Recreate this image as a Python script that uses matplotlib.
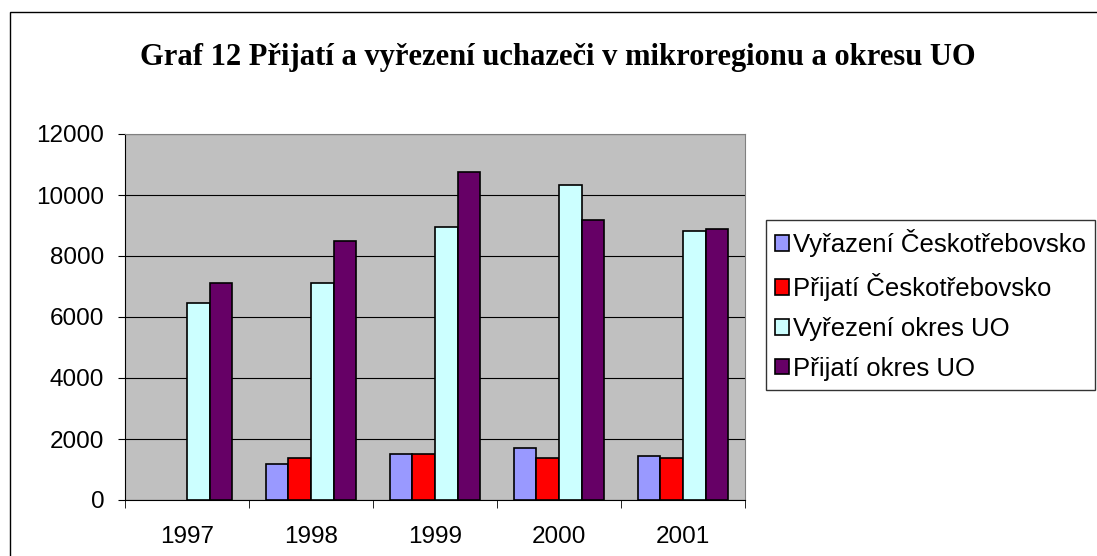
import matplotlib
matplotlib.use("Agg")
import matplotlib.pyplot as plt
import numpy as np
from matplotlib.patches import Rectangle

years = ["1997", "1998", "1999", "2000", "2001"]
series_names = ["Vyřazení Českotřebovsko", "Přijatí Českotřebovsko",
                "Vyřezení okres UO", "Přijatí okres UO"]
vyrazeni_ct = [np.nan, 1190, 1515, 1710, 1450]
prijati_ct = [np.nan, 1385, 1515, 1385, 1385]
vyrezeni_uo = [6450, 7100, 8960, 10340, 8830]
prijati_uo = [7100, 8500, 10750, 9170, 8890]
colors = ["#9999FF", "#FF0000", "#CCFFFF", "#660066"]

W, H = 1097, 556
fig = plt.figure(figsize=(W / 100, H / 100), dpi=100)
fig.patch.set_facecolor("white")

# outer border
fig.patches.append(Rectangle((10 / W, -0.01), 1.0, 1 - 12 / H + 0.01,
                             transform=fig.transFigure, fill=False,
                             edgecolor="black", linewidth=1.0))

ax = fig.add_axes([125 / W, 1 - 500 / H, 620 / W, 366 / H])
ax.set_facecolor("#C0C0C0")

x = np.arange(len(years))
bw = 1 / 5.5
data = [vyrazeni_ct, prijati_ct, vyrezeni_uo, prijati_uo]
for i, (vals, c, name) in enumerate(zip(data, colors, series_names)):
    ax.bar(x + (i - 1.5) * bw, vals, width=bw, color=c, edgecolor="black",
           linewidth=1.2, label=name, zorder=3)

ax.set_xlim(-0.5, len(years) - 0.5)
ax.set_ylim(0, 12000)
ax.set_yticks(np.arange(0, 12001, 2000))
ax.yaxis.grid(True, color="black", linewidth=0.8, zorder=1)
ax.set_axisbelow(True)

ax.set_xticks(x)
ax.set_xticklabels(years)
ax.set_xticks(np.arange(-0.5, len(years), 1), minor=True)
ax.tick_params(axis="x", which="major", length=0, pad=19)
ax.tick_params(axis="x", which="minor", length=6, direction="out", color="black")
ax.tick_params(axis="y", length=5, direction="out", pad=10)
for lab in ax.get_xticklabels() + ax.get_yticklabels():
    lab.set_fontfamily("Liberation Sans")
    lab.set_fontsize(17.5)

ax.spines["top"].set_color("#808080")
ax.spines["right"].set_color("#808080")
ax.spines["left"].set_color("black")
ax.spines["bottom"].set_color("black")

fig.text(558 / W, 1 - 57 / H,
         "Graf 12 Přijatí a vyřezení uchazeči v mikroregionu a okresu UO",
         ha="center", va="center", fontfamily="Liberation Serif",
         fontweight="bold", fontsize=22)

leg = fig.legend(loc="upper left", bbox_to_anchor=(766 / W, 1 - 220 / H),
                 prop={"family": "Liberation Sans", "size": 18.5},
                 frameon=True, fancybox=False, edgecolor="black",
                 handlelength=0.55, handleheight=0.55, handletextpad=0.15,
                 labelspacing=0.62, borderpad=0.35, borderaxespad=0)
leg.get_frame().set_linewidth(1.0)

fig.savefig("out.png", dpi=100)
